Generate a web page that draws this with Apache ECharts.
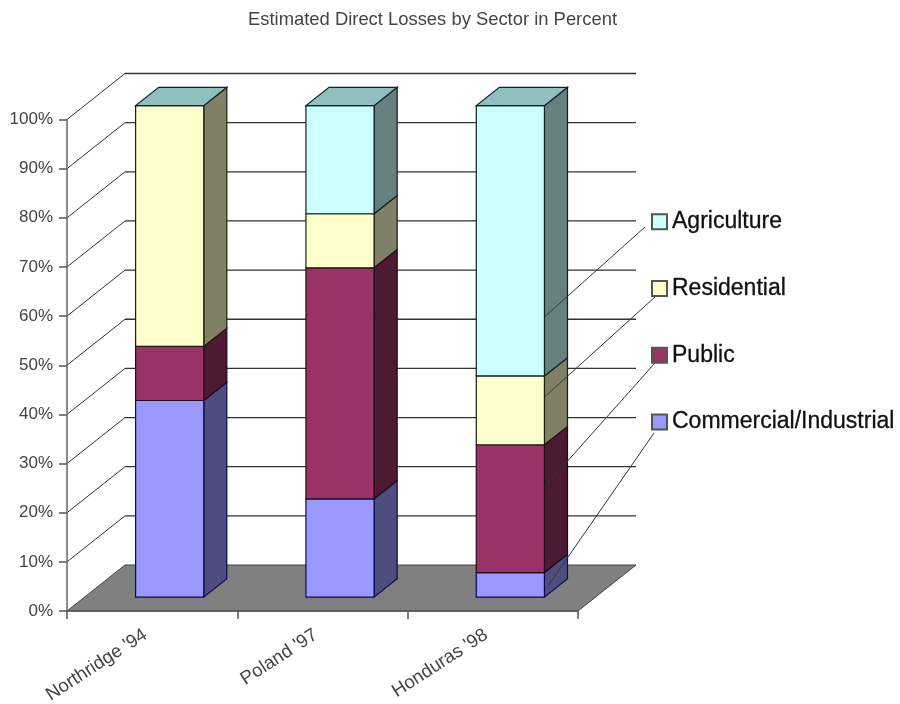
<!DOCTYPE html>
<html><head><meta charset="utf-8">
<style>html,body{margin:0;padding:0;background:#fff}#c{width:900px;height:704px}</style>
<script src="https://cdn.jsdelivr.net/npm/echarts@6/dist/echarts.min.js"></script>
</head><body><div id="c"></div>
<script>
const categories = ["Northridge '94", "Poland '97", "Honduras '98"];
const commercial = [40, 20, 5];
const publicSector = [11, 47, 26];
const residential = [49, 11, 14];
const agriculture = [0, 22, 55];
const gridTicks = [0, 10, 20, 30, 40, 50, 60, 70, 80, 90, 100];
// value on the Honduras column where each legend leader line ends
const leaderEnds = [57, 40.7, 22.4, 2.4];

const FONT = '"Liberation Sans", Arial, sans-serif';
const WALL = [58, -46], B0 = 0.302, B1 = 0.7, BW = 0.4;
const LEADER_START = [[645, 227], [655, 297], [655, 363], [654, 433]];
const LEADER_INSET = [0, 0, 0, 4];

const layers = [
  { name: 'Commercial/Industrial', values: commercial, front: '#9999ff', side: '#4d4d80', edge: '#0a0a50' },
  { name: 'Public', values: publicSector, front: '#993366', side: '#4d1a33', edge: '#200818' },
  { name: 'Residential', values: residential, front: '#ffffcc', side: '#808066', edge: '#1a1a10' },
  { name: 'Agriculture', values: agriculture, front: '#ccffff', side: '#668080', edge: '#102020' }
];
const TOP_COLOR = '#8fbfbf';

function off(p, d) { return [p[0] + WALL[0] * d, p[1] + WALL[1] * d]; }

function segmentRender(layer, isTop) {
  return function (params, api) {
    const i = api.value(0), v0 = api.value(1), v1 = api.value(2);
    const bw = api.size([1, 0])[0] * BW;
    const a = api.coord([i, v0]), b = api.coord([i, v1]);
    const f = d => [
      [a[0] - bw / 2 + WALL[0] * d, a[1] + WALL[1] * d],
      [a[0] + bw / 2 + WALL[0] * d, a[1] + WALL[1] * d],
      [b[0] + bw / 2 + WALL[0] * d, b[1] + WALL[1] * d],
      [b[0] - bw / 2 + WALL[0] * d, b[1] + WALL[1] * d]
    ];
    const p = f(B0), q = f(B1);
    const stroke = { stroke: layer.edge, lineWidth: 1.2 };
    const kids = [];
    if (v1 > v0) {
      kids.push({ type: 'polygon', shape: { points: [p[1], q[1], q[2], p[2]] }, style: { fill: layer.side, ...stroke } });
      kids.push({ type: 'polygon', shape: { points: p }, style: { fill: layer.front, ...stroke } });
    }
    if (isTop) {
      kids.push({ type: 'polygon', shape: { points: [p[3], p[2], q[2], q[3]] }, style: { fill: TOP_COLOR, stroke: '#123', lineWidth: 1.2 } });
    }
    return { type: 'group', children: kids };
  };
}

let base = categories.map(() => 0);
const barSeries = layers.map((layer, li) => {
  const data = layer.values.map((v, i) => [i, base[i], base[i] + v]);
  base = base.map((b, i) => b + layer.values[i]);
  return {
    type: 'custom', name: layer.name, z: 3 + li, data,
    encode: { x: 0, y: [1, 2] }, silent: true,
    itemStyle: { color: layer.front, borderColor: '#555', borderWidth: 1 },
    renderItem: segmentRender(layer, li === layers.length - 1)
  };
});

const wallSeries = {
  type: 'custom', name: 'walls', z: 1, silent: true,
  data: gridTicks.map(t => [t]),
  encode: { y: 0 },
  renderItem(params, api) {
    const t = api.value(0);
    const band = api.size([1, 0])[0];
    const c0 = api.coord([0, t]), c2 = api.coord([categories.length - 1, t]);
    const l = [c0[0] - band / 2, c0[1]], r = [c2[0] + band / 2, c2[1]];
    const lb = off(l, 1), rb = off(r, 1);
    const kids = [];
    if (t === 0) {
      kids.push({ type: 'polygon', shape: { points: [l, r, rb, lb] }, style: { fill: '#808080', stroke: '#444', lineWidth: 1 } });
    } else {
      kids.push({ type: 'line', shape: { x1: l[0], y1: l[1], x2: lb[0], y2: lb[1] }, style: { stroke: '#333', lineWidth: 1 } });
      kids.push({ type: 'line', shape: { x1: lb[0], y1: lb[1], x2: rb[0], y2: rb[1] }, style: { stroke: '#333', lineWidth: 1.3 } });
    }
    return { type: 'group', children: kids };
  }
};

const leaderSeries = {
  type: 'custom', name: 'leaders', z: 20, silent: true,
  data: leaderEnds.map((v, i) => [i, v]),
  encode: { y: 1 },
  renderItem(params, api) {
    const i = api.value(0), v = api.value(1);
    const bw = api.size([1, 0])[0] * BW;
    const c = off(api.coord([2, v]), B0);
    const s = LEADER_START[i];
    return { type: 'line', shape: { x1: s[0], y1: s[1], x2: c[0] + bw / 2 + LEADER_INSET[i], y2: c[1] }, style: { stroke: '#2a3a3a', lineWidth: 1 } };
  }
};

const chart = echarts.init(document.getElementById('c'), null, { renderer: 'canvas' });
chart.setOption({
  animation: false,
  backgroundColor: '#fff',
  title: {
    text: 'Estimated Direct Losses by Sector in Percent',
    left: 427.5, top: 6, textAlign: 'center',
    textStyle: { fontFamily: FONT, fontSize: 18.4, fontWeight: 'normal', color: '#444' }
  },
  legend: {
    data: ['Agriculture', 'Residential', 'Public', 'Commercial/Industrial'],
    orient: 'vertical', left: 651, top: 210, padding: 0,
    itemWidth: 15, itemHeight: 15, itemGap: 43.5, selectedMode: false,
    icon: 'rect',
    textStyle: { fontFamily: FONT, fontSize: 23, color: '#111', textBorderColor: '#111', textBorderWidth: 0.3 }
  },
  grid: { left: 67, right: 322, top: 119.5, bottom: 93, containLabel: false, outerBoundsMode: 'none' },
  xAxis: {
    type: 'category', data: categories, z: 8,
    axisLine: { show: true, lineStyle: { color: '#555', width: 1.5 } },
    axisTick: { show: true, alignWithLabel: false, length: 8, lineStyle: { color: '#555', width: 1.5 } },
    axisLabel: { rotate: 33, margin: 18, interval: 0, padding: [0, 8, 0, 0], fontFamily: FONT, fontSize: 18.6, color: '#444' }
  },
  yAxis: {
    type: 'value', min: 0, max: 100, interval: 10, z: 8,
    axisLine: { show: true, lineStyle: { color: '#666', width: 1.5 } },
    axisTick: { show: true, length: 8, lineStyle: { color: '#555', width: 1.5 } },
    axisLabel: { formatter: '{value}%', margin: 14, fontFamily: FONT, fontSize: 17, color: '#444' },
    splitLine: { show: false }
  },
  series: [wallSeries, ...barSeries, leaderSeries]
});
</script></body></html>
